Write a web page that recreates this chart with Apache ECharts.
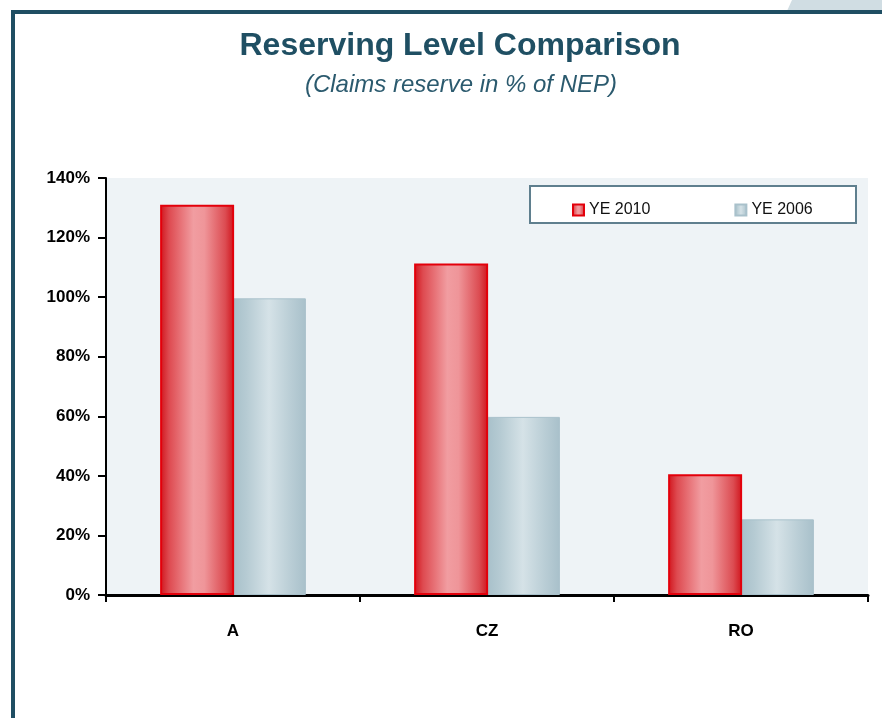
<!DOCTYPE html>
<html>
<head>
<meta charset="utf-8">
<script src="https://cdn.jsdelivr.net/npm/echarts@6/dist/echarts.min.js"></script>
<style>
  html, body { margin: 0; padding: 0; background: #ffffff; }
  #chart { width: 882px; height: 718px; }
</style>
</head>
<body>
<div id="chart"></div>
<script>
// Claims reserve as a share of net earned premium, per country
const categories = ['A', 'CZ', 'RO'];
const ye2010 = [131, 111.3, 40.5];
const ye2006 = [99.6, 59.8, 25.4];
const seriesNames = ['YE 2010', 'YE 2006'];
const yTicks = [0, 20, 40, 60, 80, 100, 120, 140];

const redFill = new echarts.graphic.LinearGradient(0, 0, 1, 0, [
  { offset: 0, color: '#d1141c' },
  { offset: 0.12, color: '#de4a50' },
  { offset: 0.45, color: '#f19da1' },
  { offset: 0.6, color: '#ef9599' },
  { offset: 0.88, color: '#dc4c52' },
  { offset: 1, color: '#d0141c' }
]);
const blueFill = new echarts.graphic.LinearGradient(0, 0, 1, 0, [
  { offset: 0, color: '#a6bfc9' },
  { offset: 0.2, color: '#b6cbd3' },
  { offset: 0.5, color: '#d5e2e7' },
  { offset: 0.8, color: '#b9cdd5' },
  { offset: 1, color: '#a8c0ca' }
]);

const chart = echarts.init(document.getElementById('chart'), null, { renderer: 'canvas' });

chart.setOption({
  animation: false,
  backgroundColor: '#ffffff',
  title: [
    {
      text: 'Reserving Level Comparison',
      left: 455, top: 25, textAlign: 'center',
      textStyle: { fontFamily: 'Liberation Sans', fontWeight: 'bold', fontSize: 32, color: '#1f4f63' }
    },
    {
      text: '(Claims reserve in % of NEP)',
      left: 456, top: 68, textAlign: 'center',
      textStyle: { fontFamily: 'Liberation Sans', fontStyle: 'italic', fontWeight: 'normal', fontSize: 24, color: '#2b5a6e' }
    }
  ],
  legend: {
    data: seriesNames,
    left: 567, top: 197,
    itemGap: 84,
    itemWidth: 11, itemHeight: 11,
    icon: 'rect',
    textStyle: { fontFamily: 'Liberation Sans', fontSize: 16, color: '#111' }
  },
  graphic: [
    // page frame
    { type: 'polygon', shape: { points: [[792, 0], [882, 0], [882, 11], [787, 11]] }, style: { fill: '#d0dde3' }, z: 0 },
    { type: 'rect', shape: { x: 11, y: 10, width: 871, height: 4 }, style: { fill: '#1f4e63' }, z: 1 },
    { type: 'rect', shape: { x: 11, y: 10, width: 4, height: 708 }, style: { fill: '#1f4e63' }, z: 1 },
    // legend box
    { type: 'rect', shape: { x: 530, y: 186, width: 326, height: 37 }, style: { fill: '#ffffff', stroke: '#5f7f8e', lineWidth: 2 }, z: 0 }
  ],
  grid: {
    left: 106, right: 14, top: 178, bottom: 123,
    show: true, backgroundColor: '#eef3f6', borderWidth: 0
  },
  xAxis: {
    type: 'category',
    data: categories,
    axisLine: { lineStyle: { color: '#000', width: 3 } },
    axisTick: { show: true, length: 7, lineStyle: { color: '#000', width: 2 } },
    axisLabel: { margin: 28, fontFamily: 'Liberation Sans', fontWeight: 'bold', fontSize: 17, color: '#000' }
  },
  yAxis: {
    type: 'value',
    min: 0, max: 140, interval: 20,
    axisLine: { show: true, lineStyle: { color: '#000', width: 2 } },
    axisTick: { show: true, length: 8, lineStyle: { color: '#000', width: 2 } },
    splitLine: { show: false },
    axisLabel: {
      margin: 16,
      fontFamily: 'Liberation Sans', fontWeight: 'bold', fontSize: 17, color: '#000',
      formatter: v => yTicks.includes(v) ? v + '%' : ''
    }
  },
  series: [
    {
      name: seriesNames[0], type: 'bar', data: ye2010,
      barWidth: 74, barGap: '-3%',
      itemStyle: { color: redFill, borderColor: '#e3000b', borderWidth: 2 },
      z: 3
    },
    {
      name: seriesNames[1], type: 'bar', data: ye2006,
      barWidth: 74,
      itemStyle: { color: blueFill, borderColor: '#a9c1cb', borderWidth: 1 },
      z: 2
    }
  ]
});
</script>
</body>
</html>
